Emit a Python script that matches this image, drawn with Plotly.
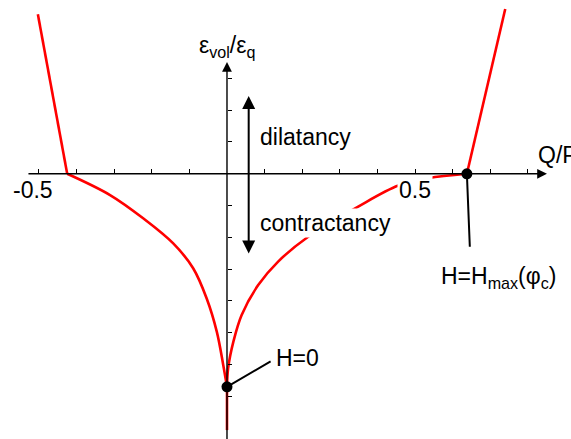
import plotly.graph_objects as go

# ---- data (Q/P on x, eps_vol/eps_q on y) ----
left_line_x = [-0.503, -0.425]
left_line_y = [0.502, 0.0]

left_curve_x = [-0.425, -0.311, -0.223, -0.143, -0.090, -0.054, -0.027, -0.010, 0.0]
left_curve_y = [0.0, -0.067, -0.140, -0.219, -0.297, -0.392, -0.497, -0.601, -0.670]

tail_x = [0.0, 0.0]
tail_y = [-0.670, -0.806]

right_curve_x = [0.0, 0.003, 0.017, 0.039, 0.083, 0.136, 0.216, 0.349, 0.456, 0.535, 0.638]
right_curve_y = [-0.670, -0.612, -0.528, -0.444, -0.350, -0.276, -0.198, -0.103, -0.037, -0.014, 0.0]

right_line_x = [0.638, 0.740]
right_line_y = [0.0, 0.518]

special_x = [0.0, 0.638]
special_y = [-0.670, 0.0]

x_ticks = [-0.5, -0.4, -0.3, -0.2, -0.1, 0.1, 0.2, 0.3, 0.4, 0.5, 0.6, 0.7, 0.8]
y_ticks = [0.3, 0.2, 0.1, -0.1, -0.2, -0.3, -0.4, -0.5, -0.6, -0.7]
x_labels = ["-0.5", "0.5"]
x_label_vals = [-0.5, 0.5]

XR = [-0.6037, 0.9149]
YR = [-0.834, 0.5465]

RED = "#ff0000"
FONT = "Liberation Sans, Arial, sans-serif"
FS = 23

fig = go.Figure()
for xs, ys, shape in [(left_line_x, left_line_y, "linear"),
                      (left_curve_x, left_curve_y, "spline"),
                      (tail_x, tail_y, "linear"),
                      (right_curve_x, right_curve_y, "spline"),
                      (right_line_x, right_line_y, "linear")]:
    fig.add_trace(go.Scatter(x=xs, y=ys, mode="lines",
                             line=dict(color=RED, width=2.6, shape=shape),
                             hoverinfo="skip", showlegend=False))

fig.add_trace(go.Scatter(x=special_x, y=special_y, mode="markers",
                         marker=dict(color="black", size=11),
                         showlegend=False, cliponaxis=False))

yfrac0 = (0 - YR[0]) / (YR[1] - YR[0])
xfrac0 = (0 - XR[0]) / (XR[1] - XR[0])

fig.update_layout(
    width=571, height=439,
    margin=dict(l=0, r=0, t=0, b=0),
    paper_bgcolor="white", plot_bgcolor="white",
    font=dict(family=FONT, size=FS, color="black"),
    xaxis=dict(range=XR, showgrid=False, zeroline=False, showline=False,
               tickvals=x_ticks, ticks="inside", ticklen=5, tickwidth=1.3,
               tickcolor="black", showticklabels=False,
               anchor="free", position=yfrac0),
    yaxis=dict(range=YR, showgrid=False, zeroline=False, showline=False,
               tickvals=y_ticks, ticks="inside", ticklen=4, tickwidth=1.3,
               tickcolor="black", showticklabels=False,
               anchor="free", position=xfrac0),
)

ann = []
# axis lines with arrowheads
ann.append(dict(x=0.851, y=0, ax=-0.532, ay=0, axref="x", ayref="y",
                xref="x", yref="y", text="", showarrow=True, arrowhead=2,
                arrowsize=1.4, arrowwidth=1.4, arrowcolor="black", standoff=0))
ann.append(dict(x=0, y=0.3516, ax=0, ay=-0.86, axref="x", ayref="y",
                xref="x", yref="y", text="", showarrow=True, arrowhead=2,
                arrowsize=1.4, arrowwidth=1.4, arrowcolor="black", standoff=0))
# dilatancy / contractancy double arrow
ann.append(dict(x=0.0577, y=0.245, ax=0.0577, ay=-0.255, axref="x", ayref="y",
                xref="x", yref="y", text="", showarrow=True, arrowhead=2,
                arrowside="end+start", arrowsize=1.3, arrowwidth=2,
                arrowcolor="black", standoff=0, startstandoff=0))
# leader lines
ann.append(dict(x=0, y=-0.670, ax=0.120, ay=-0.587, axref="x", ayref="y",
                xref="x", yref="y", text="", showarrow=True, arrowhead=0,
                arrowwidth=2, arrowcolor="black", standoff=0))
ann.append(dict(x=0.638, y=0, ax=0.646, ay=-0.234, axref="x", ayref="y",
                xref="x", yref="y", text="", showarrow=True, arrowhead=0,
                arrowwidth=2, arrowcolor="black", standoff=0))

def txt(x, y, s, xanchor="left", bg=None):
    d = dict(x=x, y=y, xref="x", yref="y", text=s, showarrow=False,
             xanchor=xanchor, yanchor="middle",
             font=dict(family=FONT, size=FS, color="black"))
    if bg:
        d["bgcolor"] = bg
    return d

ann.append(txt(0.083, 0.1157, "dilatancy"))
ann.append(txt(0.083, -0.155, "contractancy", bg="white"))
ann.append(txt(0.125, -0.579, "H=0"))
ann.append(txt(0.721, -0.325, "H=H<sub>max</sub>(φ<sub>c</sub>)", xanchor="center"))
ann.append(txt(0.0, 0.40, "ε<sub>vol</sub>/ε<sub>q</sub>", xanchor="center"))
ann.append(txt(0.822, 0.059, "Q/P"))
for v, s in zip(x_label_vals, x_labels):
    ann.append(txt(v - (0.017 if v < 0 else 0.0), -0.05, s, xanchor="center",
                   bg="white" if v > 0 else None))

fig.update_layout(annotations=ann)
fig.write_html("out.html",
               config={"displayModeBar": False},
               post_script="document.body.style.margin='0';document.body.style.overflow='hidden';")
